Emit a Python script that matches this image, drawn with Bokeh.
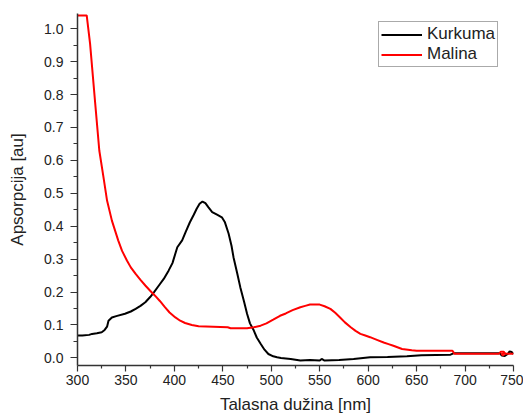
from bokeh.plotting import figure
from bokeh.models import Range1d, FixedTicker, Legend, LegendItem, NumeralTickFormatter
from bokeh.embed import file_html
from bokeh.resources import INLINE

# Kurkuma (black)
kurkuma_x = [300, 305, 312, 315, 320, 325, 328, 330.5, 332, 335.5, 340, 349, 355, 360, 365, 370,
             375, 379, 384, 389, 394, 398, 403, 408, 412, 416, 420, 423, 426, 429, 432, 435, 439,
             444, 449, 452, 456, 459, 461, 465, 468, 472, 475, 478, 482, 485, 489, 493, 497, 502,
             506, 510, 520, 530, 540, 550, 552, 555, 570, 585, 602, 620, 640, 655, 670, 685, 688,
             700, 736, 738, 741, 744, 746, 748, 750]
kurkuma_y = [0.068, 0.068, 0.070, 0.073, 0.075, 0.078, 0.085, 0.095, 0.113, 0.123, 0.127, 0.134,
             0.141, 0.149, 0.158, 0.169, 0.185, 0.200, 0.220, 0.240, 0.265, 0.288, 0.336, 0.357,
             0.385, 0.412, 0.435, 0.453, 0.468, 0.475, 0.470, 0.458, 0.443, 0.435, 0.427, 0.413,
             0.377, 0.340, 0.306, 0.255, 0.215, 0.170, 0.134, 0.105, 0.083, 0.062, 0.043, 0.025,
             0.012, 0.005, 0.002, 0.000, -0.003, -0.008, -0.006, -0.008, -0.003, -0.008, -0.006,
             -0.003, 0.002, 0.003, 0.005, 0.008, 0.009, 0.010, 0.014, 0.014, 0.014, 0.007, 0.006,
             0.012, 0.020, 0.018, 0.012]

# Malina (red)
malina_x = [300, 309.5, 313, 318, 322.5, 327, 330.5, 335.5, 342, 346, 351, 355, 360, 365, 370,
            375, 380, 385, 390, 395, 401, 406, 411, 418, 425, 440, 455, 458, 475, 482, 489, 495,
            502, 509, 515, 522, 530, 535, 540, 550, 555, 561, 566, 571, 576, 582, 587, 592, 597,
            602, 609, 616, 621, 626, 635, 645, 650, 687, 689, 735, 737, 740, 741.5, 739, 737.5,
            742, 750]
malina_y = [1.04, 1.04, 0.954, 0.782, 0.63, 0.545, 0.478, 0.417, 0.357, 0.325, 0.296, 0.275,
            0.255, 0.237, 0.220, 0.204, 0.189, 0.173, 0.155, 0.138, 0.123, 0.113, 0.106, 0.100,
            0.096, 0.095, 0.093, 0.090, 0.090, 0.093, 0.098, 0.105, 0.116, 0.128, 0.135, 0.145,
            0.154, 0.158, 0.162, 0.162, 0.157, 0.149, 0.137, 0.123, 0.108, 0.093, 0.082, 0.073,
            0.068, 0.063, 0.055, 0.047, 0.042, 0.037, 0.027, 0.023, 0.022, 0.022, 0.013, 0.013,
            0.019, 0.019, 0.012, 0.008, 0.012, 0.013, 0.013]

x_ticks = [300, 350, 400, 450, 500, 550, 600, 650, 700, 750]
x_minor = [325, 375, 425, 475, 525, 575, 625, 675, 725]
y_ticks = [0.0, 0.1, 0.2, 0.3, 0.4, 0.5, 0.6, 0.7, 0.8, 0.9, 1.0]
y_minor = [0.05, 0.15, 0.25, 0.35, 0.45, 0.55, 0.65, 0.75, 0.85, 0.95, 1.05]

FONT = "Liberation Sans"

p = figure(width=523, height=416, output_backend="svg", toolbar_location=None,
           x_range=Range1d(300, 750), y_range=Range1d(-0.023, 1.046))
p.min_border_left = 77
p.min_border_right = 10
p.min_border_top = 13
p.min_border_bottom = 51
p.outline_line_color = None
p.xgrid.visible = False
p.ygrid.visible = False

r1 = p.line(kurkuma_x, kurkuma_y, line_color="black", line_width=2)
r2 = p.line(malina_x, malina_y, line_color="#ff0000", line_width=2)

for ax in (p.xaxis[0], p.yaxis[0]):
    ax.axis_line_color = "#333333"
    ax.axis_line_width = 1.5
    ax.major_tick_line_color = "#333333"
    ax.minor_tick_line_color = "#333333"
    ax.major_tick_line_width = 1.2
    ax.minor_tick_line_width = 1.2
    ax.major_tick_in = 0
    ax.minor_tick_in = 0
    ax.major_label_text_font = FONT
    ax.major_label_text_font_size = "14px"
    ax.major_label_text_color = "#222222"
    ax.axis_label_text_font = FONT
    ax.axis_label_text_font_size = "17px"
    ax.axis_label_text_font_style = "normal"
    ax.axis_label_text_color = "#222222"

p.xaxis.ticker = FixedTicker(ticks=x_ticks, minor_ticks=x_minor)
p.yaxis.ticker = FixedTicker(ticks=y_ticks, minor_ticks=y_minor)
p.yaxis.formatter = NumeralTickFormatter(format="0.0")
p.xaxis.major_tick_out = 6
p.xaxis.minor_tick_out = 3
p.yaxis.major_tick_out = 7
p.yaxis.minor_tick_out = 4
p.xaxis.major_label_standoff = 3
p.yaxis.major_label_standoff = 7
p.xaxis.axis_label = "Talasna dužina [nm]"
p.yaxis.axis_label = "Apsorpcija [au]"
p.xaxis.axis_label_standoff = 7
p.yaxis.axis_label_standoff = 14

legend = Legend(items=[LegendItem(label="Kurkuma", renderers=[r1]),
                       LegendItem(label="Malina", renderers=[r2])],
                location=(301, 298),
                label_text_font=FONT,
                label_text_font_size="17px",
                label_text_color="#222222",
                glyph_width=41, glyph_height=19, label_height=19,
                label_standoff=5, padding=2, spacing=0, margin=0,
                border_line_color="#555555", border_line_width=1,
                background_fill_alpha=1)
p.add_layout(legend)

open("out.html", "w").write(file_html(p, INLINE))
